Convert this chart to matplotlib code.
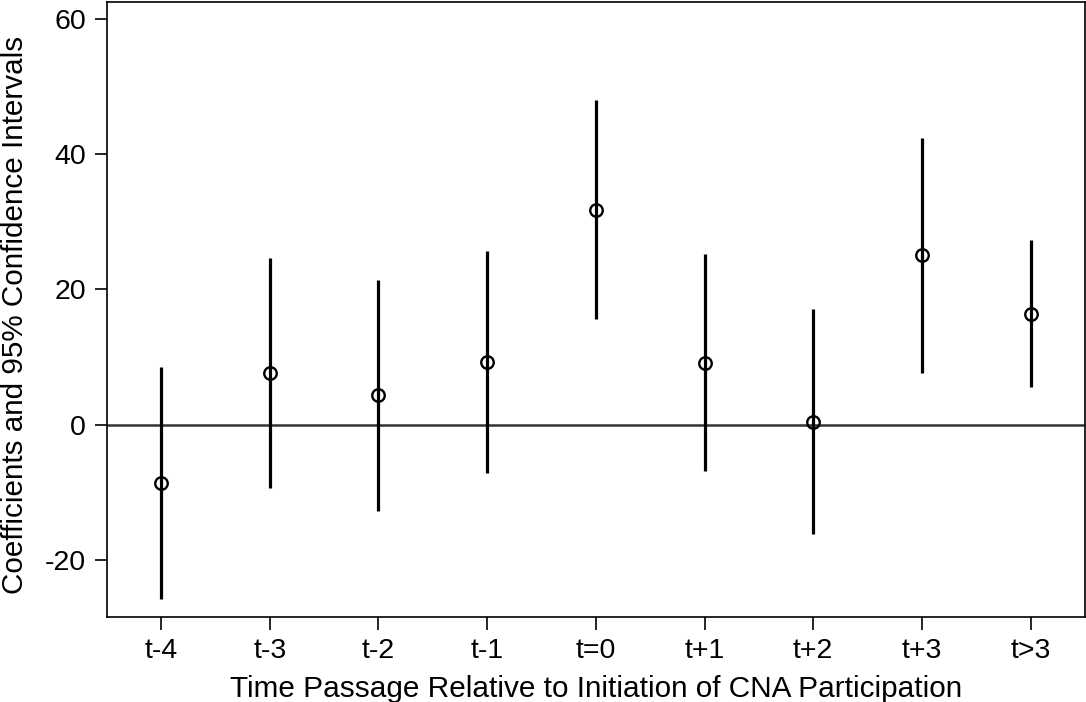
import numpy as np
import matplotlib.pyplot as plt

plt.rcParams['font.family'] = ['Liberation Sans', 'DejaVu Sans']
plt.rcParams['axes.unicode_minus'] = False

# event-study coefficients and 95% CIs
periods = ["t-4", "t-3", "t-2", "t-1", "t=0", "t+1", "t+2", "t+3", "t>3"]
coef = [-8.7, 7.7, 4.4, 9.3, 31.8, 9.1, 0.4, 25.1, 16.4]
ci_low = [-25.9, -9.4, -12.8, -7.2, 15.6, -6.9, -16.2, 7.6, 5.5]
ci_high = [8.5, 24.7, 21.4, 25.7, 48.1, 25.3, 17.1, 42.4, 27.3]

x = np.arange(1, len(periods) + 1)

fig = plt.figure(figsize=(10.86, 7.02), dpi=100)
ax = fig.add_axes([0.0983, 0.121, 0.9007, 0.8757])

ax.axhline(0, color='#333333', lw=1.8, zorder=1)
ax.vlines(x, ci_low, ci_high, color='black', lw=2.3, zorder=2)
ax.plot(x, coef, 'o', ms=9, mfc='none', mec='black', mew=1.7, zorder=3)

ax.set_xlim(0.5, 9.5)
ax.set_ylim(-28.5, 62.5)
ax.set_xticks(x)
ax.set_xticklabels(periods)
ax.set_yticks([-20, 0, 20, 40, 60])

for s in ax.spines.values():
    s.set_linewidth(1.2)
ax.tick_params(length=9, width=1.2, labelsize=20.5, pad=6)

ax.set_xlabel("Time Passage Relative to Initiation of CNA Participation", fontsize=21.4, labelpad=8)
ax.set_ylabel("Coefficients and 95% Confidence Intervals", fontsize=21.3)
ax.yaxis.set_label_coords(-0.079, 0.491)

fig.savefig("out.png", dpi=100)
